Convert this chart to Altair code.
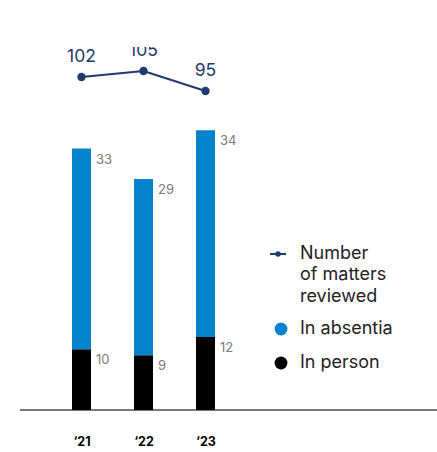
import altair as alt
import pandas as pd

years = ["‘21", "‘22", "‘23"]
in_absentia = [33, 29, 34]
in_person = [10, 9, 12]
matters = [102, 105, 95]

BLUE = "#0482CB"
NAVY = "#1F3A6E"
FONT = "Inter"

rows = []
for y, a, p in zip(years, in_absentia, in_person):
    rows.append({"year": y, "type": "In person", "value": p, "top": p, "ord": 0})
    rows.append({"year": y, "type": "In absentia", "value": a, "top": p + a, "ord": 1})
bars_df = pd.DataFrame(rows)
line_df = pd.DataFrame({"year": years, "matters": matters})

W, H = 417, 363

x_enc = alt.X(
    "year:N",
    sort=years,
    scale=alt.Scale(type="point", range=[61.5, 185.5], padding=0),
    axis=alt.Axis(
        title=None, domain=False, ticks=False, labelAngle=0,
        labelFont=FONT, labelFontSize=12.5, labelFontWeight="bold",
        labelColor="#000", labelPadding=25,
    ),
)
y_bar = alt.Scale(domain=[0, H / 6.08])
y_line = alt.Scale(domain=[-64.5, 117])

base_rule = alt.Chart(line_df).mark_rule(color="#666", strokeWidth=1.2).encode(
    x=alt.value(0), x2=alt.value(W), y=alt.value(H)
)

bars = alt.Chart(bars_df).mark_bar(size=19).encode(
    x=x_enc,
    y=alt.Y("value:Q", stack="zero", scale=y_bar, axis=None),
    color=alt.Color("type:N", scale=alt.Scale(domain=["In absentia", "In person"], range=[BLUE, "#000"]), legend=None),
    order=alt.Order("ord:Q"),
)

bar_text = alt.Chart(bars_df).mark_text(
    align="left", baseline="middle", dx=14.5, dy=11, font=FONT, fontSize=13, color="#7a7a7a"
).encode(
    x=x_enc,
    y=alt.Y("top:Q", scale=y_bar, axis=None),
    text="value:Q",
)

line = alt.Chart(line_df).mark_line(color=NAVY, strokeWidth=2.2).encode(
    x=x_enc, y=alt.Y("matters:Q", scale=y_line, axis=None)
)
pts = alt.Chart(line_df).mark_point(filled=True, color=NAVY, size=70, opacity=1).encode(
    x=x_enc, y=alt.Y("matters:Q", scale=y_line, axis=None)
)
line_text = alt.Chart(line_df).mark_text(
    dy=-20, baseline="middle", font=FONT, fontSize=17.5, color=NAVY, clip=True
).encode(
    x=x_enc, y=alt.Y("matters:Q", scale=y_line, axis=None), text="matters:Q"
)

# legend
leg_df = pd.DataFrame({"k": [0]})
lg_line = alt.Chart(leg_df).mark_rule(color=NAVY, strokeWidth=2).encode(
    x=alt.value(250), x2=alt.value(266), y=alt.value(207)
)
lg_dot = alt.Chart(leg_df).mark_point(filled=True, color=NAVY, size=30, opacity=1).encode(
    x=alt.value(258), y=alt.value(207)
)
lg_text1 = alt.Chart(leg_df).mark_text(
    align="left", baseline="alphabetic", lineBreak="\n", lineHeight=21.5,
    font=FONT, fontSize=18, color="#222",
).encode(x=alt.value(280), y=alt.value(211.5), text=alt.value("Number\nof matters\nreviewed"))
lg_c1 = alt.Chart(leg_df).mark_point(filled=True, color=BLUE, size=165, opacity=1).encode(
    x=alt.value(261), y=alt.value(282)
)
lg_t1 = alt.Chart(leg_df).mark_text(
    align="left", baseline="middle", font=FONT, fontSize=18, color="#222"
).encode(x=alt.value(280), y=alt.value(282), text=alt.value("In absentia"))
lg_c2 = alt.Chart(leg_df).mark_point(filled=True, color="#000", size=165, opacity=1).encode(
    x=alt.value(261), y=alt.value(316)
)
lg_t2 = alt.Chart(leg_df).mark_text(
    align="left", baseline="middle", font=FONT, fontSize=18, color="#222"
).encode(x=alt.value(280), y=alt.value(316), text=alt.value("In person"))

chart = alt.layer(
    base_rule, bars, bar_text, line, pts, line_text,
    lg_line, lg_dot, lg_text1, lg_c1, lg_t1, lg_c2, lg_t2,
).resolve_scale(y="independent").properties(
    width=W, height=H,
    autosize=alt.AutoSizeParams(type="none"),
    padding={"left": 20, "top": 47, "right": 0, "bottom": 42},
    background="white",
).configure_view(strokeWidth=0, stroke=None)

chart.save("out.html", embed_options={"renderer": "svg", "actions": False})
